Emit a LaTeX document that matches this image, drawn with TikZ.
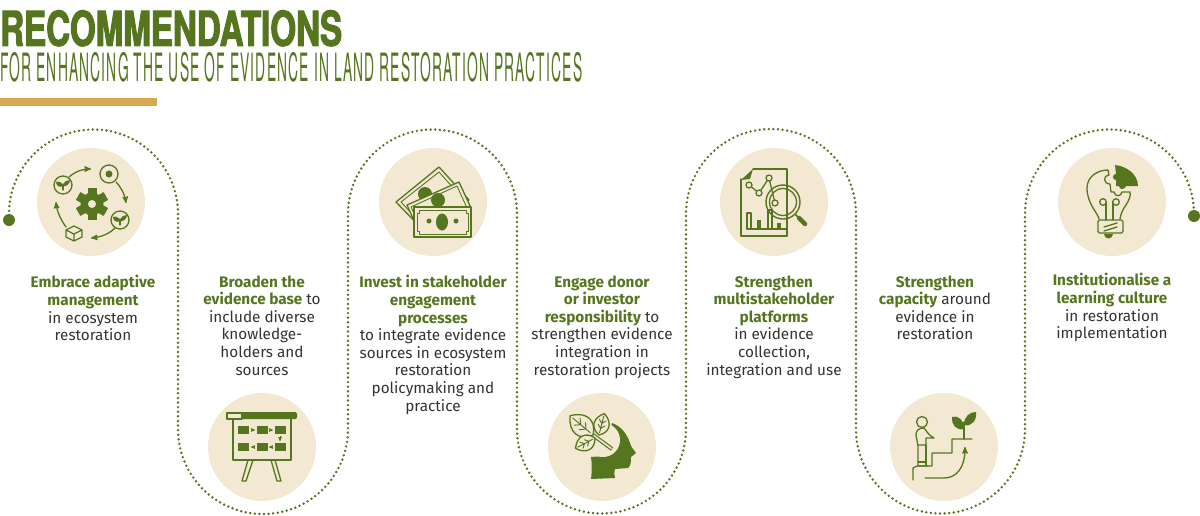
\documentclass[tikz,border=0pt]{standalone}
\usepackage{fontspec}
\setmainfont{Fira Sans}
\newfontfamily\headfont[FakeStretch=0.69,FakeBold=2.2]{TeX Gyre Heros}
\newfontfamily\subfont[FakeStretch=0.355,LetterSpace=3]{TeX Gyre Heros}
\usetikzlibrary{positioning,arrows}
\definecolor{leaf}{HTML}{55761F}
\definecolor{cream}{HTML}{F3E8D2}
\definecolor{gold}{HTML}{D9A84E}
\definecolor{ink}{HTML}{333333}
\newcommand{\hilite}[1]{\textbf{\textcolor{leaf}{#1}}}
\tikzstyle{iconcircle} = [on grid, circle, fill=cream, minimum size=108pt, inner sep=0pt]
\tikzstyle{textblock} = [text=ink, align=center, inner sep=0pt, font=\fontsize{15.3}{17.6}\selectfont]
\tikzstyle{enddot} = [circle, fill=leaf, minimum size=12pt, inner sep=0pt]
\tikzstyle{dotline} = [leaf, line width=2.7pt, line cap=round, dash pattern=on 0pt off 4.6pt]
\tikzstyle{icon} = [leaf, line width=1.3pt, line join=round, line cap=round]
\tikzstyle{iconarrow} = [icon, ->, >=stealth']
\newcommand{\sprout}[1]{\begin{scope}[shift={#1}]
  \draw[icon] (0,5) -- (0,-1);
  \fill[leaf] (0,1) .. controls (-1,-3) and (-4,-4) .. (-7,-3) .. controls (-7,1) and (-3,3) .. (0,1);
  \fill[leaf] (0,1) .. controls (1,-4) and (4,-5) .. (7,-5) .. controls (7,-1) and (3,2) .. (0,1);
\end{scope}}
\newcommand{\herb}[3]{\begin{scope}[shift={#1}, rotate=#2, scale=#3]
  \draw[icon, fill=cream] (0,0) .. controls (6,-12) and (18,-12) .. (26,0) .. controls (18,12) and (6,12) .. (0,0);
  \draw[icon, line width=.9pt] (3,0) -- (23,0) (8,0) -- (12,-4) (8,0) -- (12,4) (14,0) -- (18,-4) (14,0) -- (18,4);
\end{scope}}
\begin{document}
\begin{tikzpicture}[x=1pt, y=-1pt]
\useasboundingbox (0,0) rectangle (1200,515);

% Heading
\node(title)    [anchor=north west, inner sep=0pt, text=leaf, font=\fontsize{48}{48}\headfont\bfseries] at (0,10) {RECOMMENDATIONS};
\node(subtitle) [below=6pt of title.south west, anchor=north west, inner sep=0pt, text=leaf, font=\fontsize{39}{39}\subfont] {FOR ENHANCING THE USE OF EVIDENCE IN LAND RESTORATION PRACTICES};
\node(goldbar)  [rectangle, fill=gold, minimum width=157pt, minimum height=8pt, inner sep=0pt, anchor=north west] at (0,98) {};

% Place the circles
\node(icon_a) [iconcircle] at (91,202) {};
\node(icon_b) [iconcircle, below right=245pt and 171pt of icon_a] {};
\node(icon_c) [iconcircle, above right=245pt and 171pt of icon_b] {};
\node(icon_d) [iconcircle, below right=245pt and 169pt of icon_c] {};
\node(icon_e) [iconcircle, above right=245pt and 172pt of icon_d] {};
\node(icon_f) [iconcircle, below right=245pt and 170pt of icon_e] {};
\node(icon_g) [iconcircle, above right=245pt and 168pt of icon_f] {};

% Place the end points and join them
\node(dot_a) [enddot] at (9,220) {};
\node(dot_b) [enddot] at (1194,216) {};
\draw[dotline] (dot_a.center) -- (9,214) arc[start angle=180, end angle=0, radius=84.5pt]
  -- (178,429) arc[start angle=180, end angle=360, radius=85pt]
  -- (348,214) arc[start angle=180, end angle=0, radius=84.5pt]
  -- (517,429) arc[start angle=180, end angle=360, radius=84.5pt]
  -- (686,214) arc[start angle=180, end angle=0, radius=85pt]
  -- (856,429) arc[start angle=180, end angle=360, radius=84.5pt]
  -- (1025,214) arc[start angle=180, end angle=0, radius=84.5pt]
  -- (dot_b.center);

% Place the texts
\node(text_a) [textblock, below=19pt of icon_a, xshift=2pt] {\hilite{Embrace adaptive}\\\hilite{management}\\in ecosystem\\restoration};
\node(text_b) [textblock, anchor=north] at (icon_b |- text_a.north) {\hilite{Broaden the}\\\hilite{evidence base} to\\include diverse\\knowledge-\\holders and\\sources};
\node(text_c) [textblock, anchor=north] at (icon_c |- text_a.north) {\hilite{Invest in stakeholder}\\\hilite{engagement}\\\hilite{processes}\\to integrate evidence\\sources in ecosystem\\restoration\\policymaking and\\practice};
\node(text_d) [textblock, anchor=north] at (icon_d |- text_a.north) {\hilite{Engage donor}\\\hilite{or investor}\\\hilite{responsibility} to\\strengthen evidence\\integration in\\restoration projects};
\node(text_e) [textblock, anchor=north] at (icon_e |- text_a.north) {\hilite{Strengthen}\\\hilite{multistakeholder}\\\hilite{platforms}\\in evidence\\collection,\\integration and use};
\node(text_f) [textblock, anchor=north, xshift=-9pt] at (icon_f |- text_a.north) {\hilite{Strengthen}\\\hilite{capacity} around\\evidence in\\restoration};
\node(text_g) [textblock, anchor=north, yshift=2pt] at (icon_g |- text_a.north) {\hilite{Institutionalise a}\\\hilite{learning culture}\\in restoration\\implementation};

% Adaptive cycle
\begin{scope}[shift={(icon_a.center)}]
  \foreach \a in {0,60,...,300} \fill[leaf, rotate around={\a:(1,2)}] (-3.5,-14) rectangle (5.5,2);
  \fill[leaf] (1,2) circle (11.5);
  \fill[cream] (1,2) circle (4);
  \draw[icon] (18,-28) circle (9);
  \fill[leaf] (18,-28) circle (3.5);
  \draw[icon] (-28,-17) circle (9);
  \sprout{(-28,-17)}
  \draw[icon] (29,18) circle (9);
  \sprout{(29,18)}
  \draw[icon] (-17,24) -- (-9,28) -- (-9,35) -- (-17,39) -- (-25,35) -- (-25,28) -- cycle (-25,28) -- (-17,32) -- (-9,28) (-17,32) -- (-17,39);
  \draw[iconarrow] (-22,-25) .. controls (-15,-31) and (-8,-33) .. (0,-33);
  \draw[iconarrow] (25,-20) .. controls (30,-15) and (34,-7) .. (35,1);
  \draw[iconarrow] (24,26) .. controls (18,32) and (10,35) .. (0,36);
  \draw[iconarrow] (-25,25) .. controls (-30,18) and (-34,10) .. (-35,0);
\end{scope}

% Presentation board
\begin{scope}[shift={(icon_b.center)}]
  \draw[icon] (-35,-34) rectangle (-20,-28);
  \fill[leaf, rounded corners=1.5pt] (-21,-35) rectangle (35,-28);
  \draw[icon] (-29,-28) -- (-29,13) -- (29,13) -- (29,-28);
  \foreach \x in {-19,0,18} \foreach \y in {-17,0} \fill[leaf] (\x-5.5,\y-4) rectangle (\x+5.5,\y+4);
  \foreach \x in {-9,9} {
    \draw[leaf, -{stealth'}, line width=.6pt] (\x-2,-17) -- (\x+2,-17);
    \draw[leaf, -{stealth'}, line width=.6pt] (\x+2,0) -- (\x-2,0);
  }
  \draw[leaf, -{stealth'}, line width=.6pt] (18,-11) -- (18,-6);
  \draw[icon] (-9,13) -- (-16,34) -- (-20,34) -- (-14,13);
  \draw[icon] (9,13) -- (15,34) -- (19,34) -- (13,13);
\end{scope}

% Banknotes
\begin{scope}[shift={(icon_c.center)}]
  \draw[icon, fill=cream] (-37,0) -- (6,-35) -- (36,-2) -- (-8,30) -- cycle;
  \draw[icon, line width=.9pt] (-32,0) -- (6,-30) -- (31,-2) -- (-8,26) -- cycle;
  \fill[leaf] (-8,-8) circle (7);
  \draw[icon, fill=cream] (-26,3) -- (26,-20) -- (38,6) -- (-14,30) -- cycle;
  \draw[icon, line width=.9pt] (-22,5) -- (24,-16) -- (34,6) -- (-12,27) -- cycle;
  \fill[leaf] (5,-2) circle (7);
  \draw[icon, fill=cream] (-19,5) rectangle (38,35);
  \draw[icon, line width=.9pt] (-14,8) -- (33,8) -- (33,11) -- (35,11) -- (35,29) -- (33,29) -- (33,32) -- (-14,32) -- (-14,29) -- (-16,29) -- (-16,11) -- (-14,11) -- cycle;
  \fill[leaf] (9,20) ellipse (6 and 8.5);
  \fill[leaf] (-4,19) circle (2.5);
  \fill[leaf] (23,19) circle (2.5);
\end{scope}

% Heads and leaves
\begin{scope}[shift={(icon_d.center)}]
  \fill[leaf] (10,-24) .. controls (19,-21) and (25,-13) .. (28,-4) .. controls (29,0) and (32,3) .. (34,6)
    -- (29,10) .. controls (29,14) and (29,19) .. (26,21) -- (13,22) .. controls (12,25) and (12,28) .. (13,31)
    -- (-11,32) .. controls (-10,24) and (-10,17) .. (-11,10) -- (3,9) -- cycle;
  \fill[cream] (1,-7) circle (17);
  \draw[leaf, line width=4pt] (-9,-12) -- (10,2);
  \draw[cream, line width=1.6pt] (-9,-12) -- (9.5,1.6);
  \herb{(-9,-12)}{140}{1.15}
  \herb{(-3,-12)}{76}{.85}
  \herb{(-7,-9)}{208}{.85}
\end{scope}

% Document and magnifier
\begin{scope}[shift={(icon_e.center)}]
  \draw[icon] (-33,-23) -- (-33,34) -- (13,34) -- (13,-33) -- (-21,-33);
  \fill[leaf] (-33,-22) -- (-21,-33) -- (-24,-23) -- cycle;
  \draw[icon] (-25,-17) -- (-15,-9) -- (-5,-24) -- (1,1);
  \foreach \p in {(-25,-17),(-15,-9),(-5,-24),(1,1)} \draw[icon, fill=cream] \p circle (3);
  \draw[icon] (-27,27) -- (12,27);
  \draw[icon] (-27,27) -- (-27,11) -- (-23,11) -- (-23,27);
  \fill[leaf] (-17,18) rectangle (-13,27);
  \draw[icon] (-6,27) -- (-6,8) -- (-2,8) -- (-2,27);
  \fill[leaf] (3,21) rectangle (7,27);
  \draw[icon, line width=1.4pt] (9,0) circle (17);
  \draw[icon] (9,0) circle (13.5);
  \draw[leaf, line width=1.6pt] (21,12) -- (25,16);
  \draw[leaf, line width=4.5pt, line cap=round] (25,16) -- (31,22);
\end{scope}

% Stairs and plant
\begin{scope}[shift={(icon_f.center)}]
  \draw[icon] (-31,33) -- (-31,21) -- (-27,19) -- (-12,19) -- (-12,6) -- (8,6) -- (8,-8) -- (28,-8);
  \draw[icon] (-22,-25) circle (5.5);
  \draw[icon] (-20,-19) .. controls (-26,-19) and (-28,-16) .. (-28,-12) -- (-26,-1) -- (-26,19) -- (-20,19) -- (-16,19);
  \draw[icon] (-20,-19) .. controls (-18,-17) and (-16,-12) .. (-10,-9) -- (-18,-9) -- (-18,-2) -- (-26,-2);
  \draw[icon] (-18,-2) -- (-18,18) (-26,15) -- (-18,15);
  \draw[icon] (20,-8) -- (20,-25);
  \fill[leaf] (20,-18) .. controls (20,-28) and (13,-32) .. (8,-30) .. controls (7,-23) and (12,-16) .. (20,-18);
  \fill[leaf] (20,-22) .. controls (20,-31) and (26,-35) .. (32,-35) .. controls (33,-27) and (28,-20) .. (20,-22);
  \draw[iconarrow] (-19,31) -- (0,31) .. controls (13,31) and (21,20) .. (21,0);
\end{scope}

% Bulb and puzzle
\begin{scope}[shift={(icon_g.center)}]
  \fill[leaf] (3,-37) .. controls (14,-36) and (26,-28) .. (26,-16) -- (14,-16) .. controls (13,-12) and (7,-12) .. (7,-16) -- (4,-16) -- (4,-22) .. controls (0,-22) and (0,-28) .. (4,-28) -- cycle;
  \draw[icon] (-13,17) .. controls (-14,11) and (-25,2) .. (-25,-14) .. controls (-25,-25) and (-15,-32) .. (-4,-32)
    -- (-3,-27) .. controls (-9,-27) and (-9,-18) .. (-2,-18) -- (-1,-10) -- (2,-10) .. controls (3,-5) and (9,-5) .. (10,-10) -- (18,-10)
    .. controls (19,-6) and (17,-2) .. (14,3) .. controls (11,7) and (9,11) .. (8,17);
  \draw[icon] (-9,0) circle (3.3) (4,0) circle (3.3);
  \draw[icon] (-6,1) -- (-6,18) (1,1) -- (1,18);
  \draw[icon, rounded corners=1.5pt] (-14,18) rectangle (11,31);
  \draw[icon] (-8,25) -- (5,21) (-8,29) -- (5,25);
  \fill[leaf] (-8,32) arc[start angle=180, end angle=360, radius=4.5pt];
\end{scope}

\end{tikzpicture}
\end{document}
